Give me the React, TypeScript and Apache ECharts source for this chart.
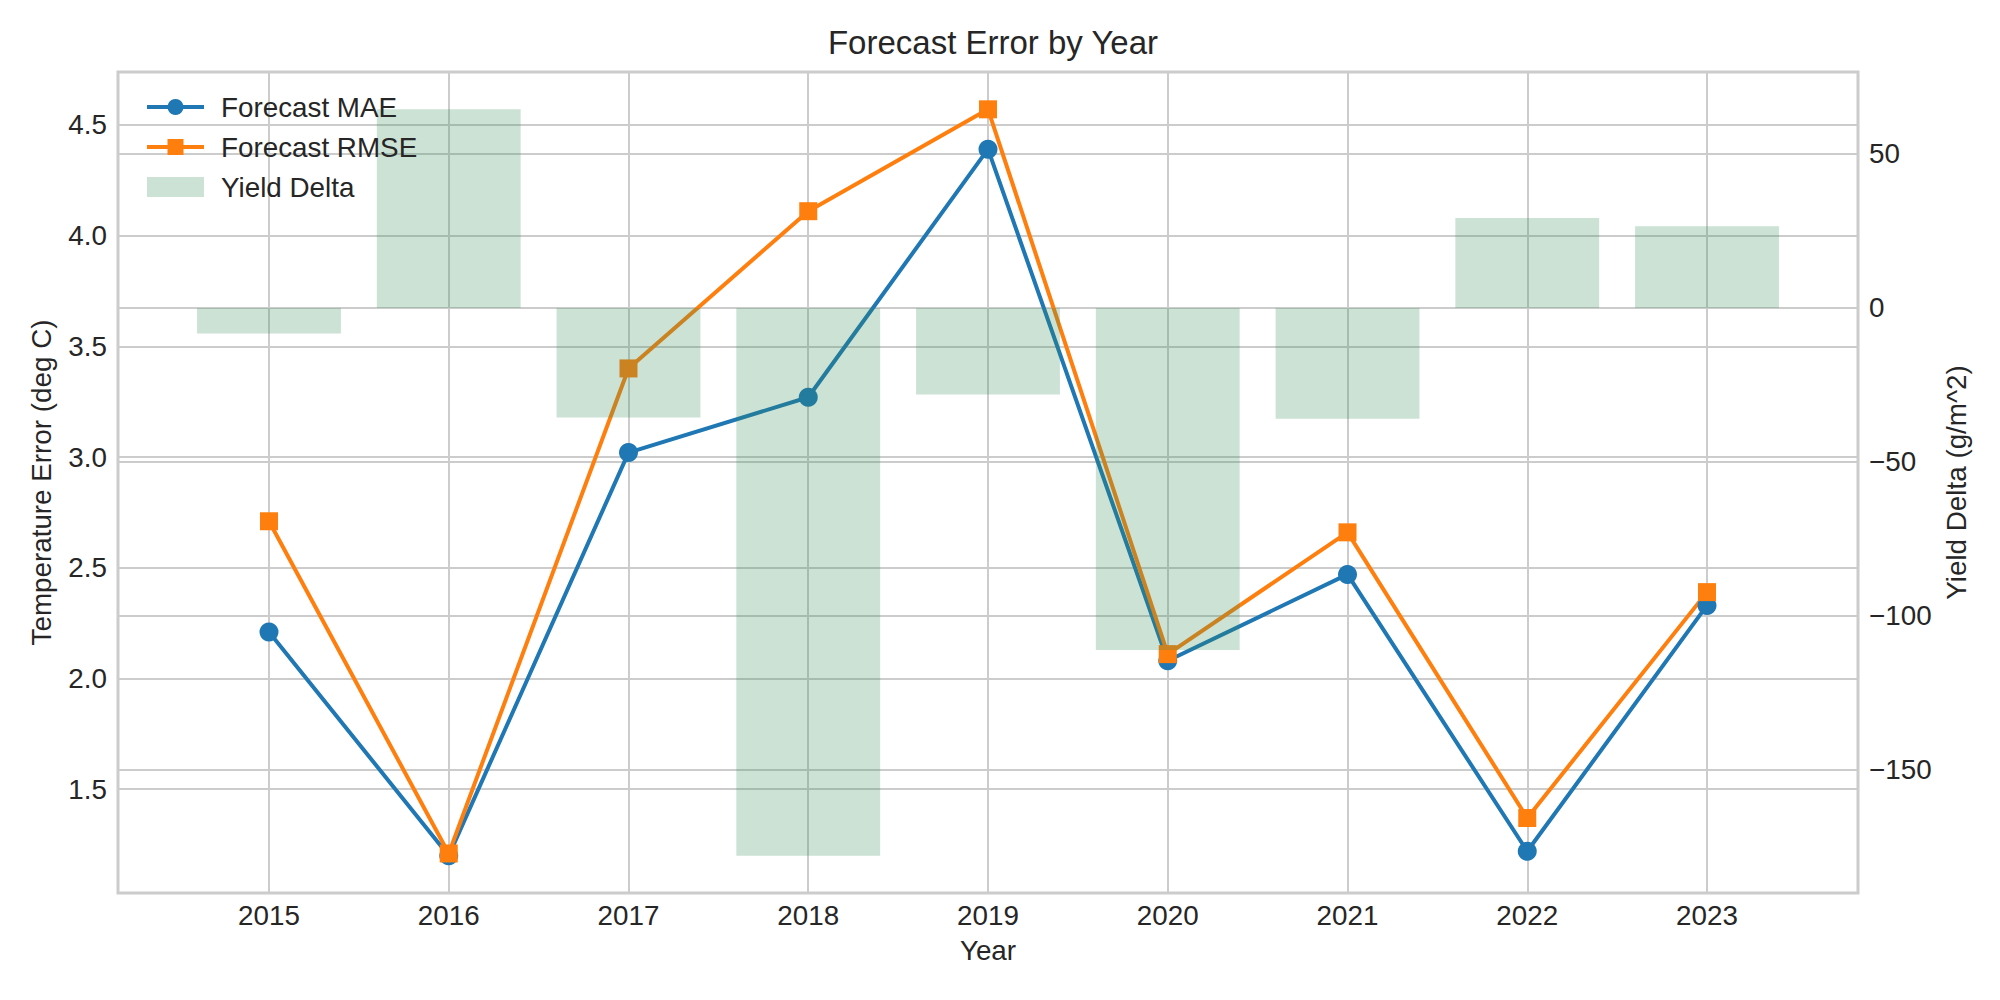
import { useEffect, useRef } from 'react';
import * as echarts from 'echarts';

const years = ['2015', '2016', '2017', '2018', '2019', '2020', '2021', '2022', '2023'];
const maeValues = [2.21, 1.2, 3.02, 3.27, 4.39, 2.08, 2.47, 1.22, 2.33];
const rmseValues = [2.71, 1.21, 3.4, 4.11, 4.57, 2.11, 2.66, 1.37, 2.39];
const yieldDelta = [-8.3, 64.5, -35.6, -177.9, -28.1, -111.1, -36.0, 29.2, 26.5];

const font = "'Liberation Sans', Arial, sans-serif";
const textColor = '#262626';
const gridColor = '#cccccc';

// matplotlib style 5% margins
function padRange(lo: number, hi: number) {
  const r = hi - lo;
  return [lo - 0.05 * r, hi + 0.05 * r];
}

const onStep = (v: number, step: number) => Math.abs(v / step - Math.round(v / step)) < 1e-6;

export default function App() {
  const ref = useRef<HTMLDivElement>(null);

  useEffect(() => {
    if (!ref.current) return;
    const chart = echarts.init(ref.current, undefined, { renderer: 'svg' });

    const allErr = [...maeValues, ...rmseValues];
    const [leftMin, leftMax] = padRange(Math.min(...allErr), Math.max(...allErr));
    const [rightMin, rightMax] = padRange(Math.min(0, ...yieldDelta), Math.max(0, ...yieldDelta));
    const [xMin, xMax] = padRange(-0.4, years.length - 1 + 0.4);

    const option: echarts.EChartsOption = {
      animation: false,
      backgroundColor: '#ffffff',
      textStyle: { fontFamily: font, color: textColor },
      title: {
        text: 'Forecast Error by Year',
        left: 988,
        textAlign: 'center',
        top: 21,
        textStyle: { fontFamily: font, fontSize: 33, fontWeight: 'normal', color: textColor },
      },
      legend: {
        orient: 'vertical',
        left: 140,
        top: 88,
        itemWidth: 57,
        itemHeight: 20,
        itemGap: 12,
        data: ['Forecast MAE', 'Forecast RMSE', { name: 'Yield Delta', icon: 'rect' }],
        lineStyle: { width: 4 },
        textStyle: { fontFamily: font, fontSize: 27.8, color: textColor, padding: [0, 0, 0, 12] },
      },
      grid: {
        left: 118,
        right: 142,
        top: 72,
        bottom: 107,
        show: true,
        borderColor: gridColor,
        borderWidth: 3,
        backgroundColor: 'transparent',
      },
      xAxis: {
        type: 'value',
        min: xMin,
        max: xMax,
        minInterval: 1,
        maxInterval: 1,
        name: 'Year',
        nameLocation: 'middle',
        nameGap: 43,
        nameTextStyle: { fontFamily: font, fontSize: 27.8, color: textColor },
        axisLine: { show: false },
        axisTick: { show: false },
        axisLabel: {
          margin: 8,
          fontSize: 27.8,
          color: textColor,
          fontFamily: font,
          formatter: (v: number) => (onStep(v, 1) && years[Math.round(v)]) || '',
        },
        splitLine: { show: true, lineStyle: { color: gridColor, width: 2 } },
      },
      yAxis: [
        {
          type: 'value',
          position: 'left',
          min: leftMin,
          max: leftMax,
          minInterval: 0.5,
          maxInterval: 0.5,
          name: 'Temperature Error (deg C)',
          nameLocation: 'middle',
          nameRotate: 90,
          nameGap: 63,
          nameTextStyle: { fontFamily: font, fontSize: 27.8, color: textColor },
          axisLine: { show: false },
          axisTick: { show: false },
          axisLabel: {
            margin: 11,
            fontSize: 27.8,
            color: textColor,
            fontFamily: font,
            formatter: (v: number) => (onStep(v, 0.5) ? v.toFixed(1) : ''),
          },
          splitLine: { show: true, lineStyle: { color: gridColor, width: 2 } },
        },
        {
          type: 'value',
          position: 'right',
          min: rightMin,
          max: rightMax,
          minInterval: 50,
          maxInterval: 50,
          name: 'Yield Delta (g/m^2)',
          nameLocation: 'middle',
          nameRotate: 90,
          nameGap: 81,
          nameTextStyle: { fontFamily: font, fontSize: 27.8, color: textColor },
          axisLine: { show: false },
          axisTick: { show: false },
          axisLabel: {
            margin: 11,
            fontSize: 27.8,
            color: textColor,
            fontFamily: font,
            formatter: (v: number) =>
              onStep(v, 50) ? String(Math.round(v)).replace('-', '\u2212') : '',
          },
          splitLine: { show: true, lineStyle: { color: gridColor, width: 2 } },
        },
      ],
      series: [
        {
          name: 'Forecast MAE',
          type: 'line',
          yAxisIndex: 0,
          data: maeValues.map((v, i) => [i, v]),
          symbol: 'circle',
          symbolSize: 19,
          color: '#1f77b4',
          lineStyle: { width: 4, color: '#1f77b4' },
          itemStyle: { color: '#1f77b4' },
          z: 2,
        },
        {
          name: 'Forecast RMSE',
          type: 'line',
          yAxisIndex: 0,
          data: rmseValues.map((v, i) => [i, v]),
          symbol: 'rect',
          symbolSize: 18,
          color: '#ff7f0e',
          lineStyle: { width: 4, color: '#ff7f0e' },
          itemStyle: { color: '#ff7f0e' },
          z: 2,
        },
        {
          name: 'Yield Delta',
          type: 'bar',
          yAxisIndex: 1,
          data: yieldDelta.map((v, i) => [i, v]),
          barWidth: '80%',
          itemStyle: { color: 'rgba(46,139,87,0.25)' },
          z: 3,
        },
      ],
    };

    chart.setOption(option);
    return () => chart.dispose();
  }, []);

  return (
    <div
      ref={ref}
      style={{ position: 'fixed', left: 0, top: 0, width: 2000, height: 1000 }}
    />
  );
}
